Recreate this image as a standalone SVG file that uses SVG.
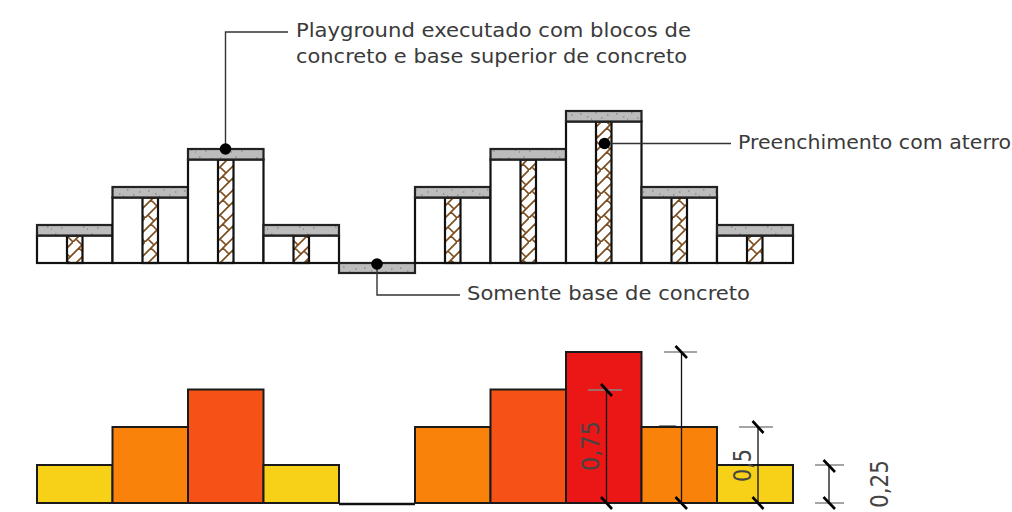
<svg xmlns="http://www.w3.org/2000/svg" width="1012" height="512" viewBox="0 0 1012 512">
<style>
.out{fill:#fff;stroke:#111;stroke-width:2.2}
.cap{fill:url(#conc);stroke:#222;stroke-width:2.2}
.fill{fill:url(#herr);stroke:#111;stroke-width:2.2}
.bar{stroke:#1a1a1a;stroke-width:2}
.lead{fill:none;stroke:#333;stroke-width:1.4}
.dot{fill:#000}
.t{font-family:"DejaVu Sans","Liberation Sans",sans-serif;font-size:20px;fill:#3a3a3a}
.d{font-family:"DejaVu Sans","Liberation Sans",sans-serif;font-size:24px;fill:#444}
.one{font-family:"Open Sans","Liberation Sans",sans-serif;font-size:24px;fill:#333}
.dl{stroke:#111;stroke-width:1.3;fill:none}
.tick{stroke:#888;stroke-width:1.5;fill:none}
.sl{stroke:#000;stroke-width:2.6;fill:none}
</style>
<defs>
<pattern id="herr" width="24" height="24" patternUnits="userSpaceOnUse" patternTransform="translate(1 2)">
<path d="M-2 14L14 -2M-2 26L26 -2M10 26L26 10M22 26L26 22M6 6L12 12M18 18L24 24M15 9L21 15M-9 9L-3 15M3 21L9 27M3 -3L9 3" fill="none" stroke="#7d4d1e" stroke-width="1.7"/>
</pattern>
<pattern id="conc" width="36" height="11" patternUnits="userSpaceOnUse">
<rect width="36" height="11" fill="#bcbcbc"/>
<path d="M4 4h1.500M11 7h1.500M19 3h1.500M25 8h1.500M31 5h1.500M15 9h1" stroke="#8e8e8e" stroke-width="1.4"/>
</pattern>
</defs>

<g id="section-top">
<g id="block-1"><rect class="out" x="37" y="235.500" width="75.500" height="27.500"/><rect class="fill" x="67" y="235.500" width="15.500" height="27.500"/><rect class="cap" x="37" y="225" width="75.500" height="10.500"/></g>
<g id="block-2"><rect class="out" x="112.500" y="197.500" width="75.500" height="65.500"/><rect class="fill" x="142.500" y="197.500" width="15.500" height="65.500"/><rect class="cap" x="112.500" y="187" width="75.500" height="10.500"/></g>
<g id="block-3"><rect class="out" x="188" y="159.500" width="75.500" height="103.500"/><rect class="fill" x="218" y="159.500" width="15.500" height="103.500"/><rect class="cap" x="188" y="149" width="75.500" height="10.500"/></g>
<g id="block-4"><rect class="out" x="263.500" y="235.500" width="75.500" height="27.500"/><rect class="fill" x="293.500" y="235.500" width="15.500" height="27.500"/><rect class="cap" x="263.500" y="225" width="75.500" height="10.500"/></g>
<g id="block-5"><rect class="cap" x="339" y="263" width="76" height="10"/></g>
<g id="block-6"><rect class="out" x="415" y="197.500" width="75.500" height="65.500"/><rect class="fill" x="445" y="197.500" width="15.500" height="65.500"/><rect class="cap" x="415" y="187" width="75.500" height="10.500"/></g>
<g id="block-7"><rect class="out" x="490.500" y="159.500" width="75.500" height="103.500"/><rect class="fill" x="520.500" y="159.500" width="15.500" height="103.500"/><rect class="cap" x="490.500" y="149" width="75.500" height="10.500"/></g>
<g id="block-8"><rect class="out" x="566" y="121.500" width="75.500" height="141.500"/><rect class="fill" x="596" y="121.500" width="15.500" height="141.500"/><rect class="cap" x="566" y="111" width="75.500" height="10.500"/></g>
<g id="block-9"><rect class="out" x="641.500" y="197.500" width="75.500" height="65.500"/><rect class="fill" x="671.500" y="197.500" width="15.500" height="65.500"/><rect class="cap" x="641.500" y="187" width="75.500" height="10.500"/></g>
<g id="block-10"><rect class="out" x="717" y="235.500" width="76" height="27.500"/><rect class="fill" x="747" y="235.500" width="15.500" height="27.500"/><rect class="cap" x="717" y="225" width="76" height="10.500"/></g>
</g>

<text class="one" transform="translate(676 434) rotate(-90)">1</text>

<g id="bars">
<g id="bar-1"><rect class="bar" x="37" y="465" width="75.500" height="38" fill="#f6d117"/></g>
<g id="bar-2"><rect class="bar" x="112.500" y="427" width="75.500" height="76" fill="#f9820b"/></g>
<g id="bar-3"><rect class="bar" x="188" y="389.500" width="75.500" height="113.500" fill="#f65217"/></g>
<g id="bar-4"><rect class="bar" x="263.500" y="465" width="75.500" height="38" fill="#f6d117"/></g>
<g id="bar-5"><path d="M339 504H415" stroke="#111" stroke-width="2.500"/></g>
<g id="bar-6"><rect class="bar" x="415" y="427" width="75.500" height="76" fill="#f9820b"/></g>
<g id="bar-7"><rect class="bar" x="490.500" y="389.500" width="75.500" height="113.500" fill="#f65217"/></g>
<g id="bar-8"><rect class="bar" x="566" y="352" width="75.500" height="151" fill="#eb1717"/></g>
<g id="bar-9"><rect class="bar" x="641.500" y="427" width="75.500" height="76" fill="#f9820b"/></g>
<g id="bar-10"><rect class="bar" x="717" y="465" width="76" height="38" fill="#f6d117"/></g>
</g>

<g id="connectors">
<path class="lead" d="M225.500 149V32H288"/>
<path class="lead" d="M604.500 143.500H731"/>
<path class="lead" d="M377 264V295H460"/>
<circle class="dot" cx="225.500" cy="149" r="5.800"/>
<circle class="dot" cx="604.500" cy="143.500" r="5.800"/>
<circle class="dot" cx="377" cy="264" r="5.800"/>
<path class="tick" d="M588 390H622M664 352H697M739 427H773M815 465H844M815 503H844"/>
<path class="dl" d="M606.500 390V503M681.500 352V503M758 427V503M829 465V503"/>
<path class="sl" d="M601 384L612 396M601 497L612 509M675.500 346L687 358M675.500 497L687 509M752.500 421L763.500 433M752.500 497L763.500 509M823.500 460L835 472M823.500 497L835 509"/>
</g>

<g id="labels">
<text class="t" x="296" y="37" textLength="395" lengthAdjust="spacingAndGlyphs">Playground executado com blocos de</text>
<text class="t" x="296" y="63" textLength="391" lengthAdjust="spacingAndGlyphs">concreto e base superior de concreto</text>
<text class="t" x="738" y="149" textLength="273" lengthAdjust="spacingAndGlyphs">Preenchimento com aterro</text>
<text class="t" x="467" y="300" textLength="283" lengthAdjust="spacingAndGlyphs">Somente base de concreto</text>
<text class="d" transform="translate(599 471) rotate(-90)" textLength="50" lengthAdjust="spacingAndGlyphs">0,75</text>
<text class="d" transform="translate(751 482) rotate(-90)" textLength="33" lengthAdjust="spacingAndGlyphs">0,5</text>
<text class="d" transform="translate(888 508) rotate(-90)" textLength="48" lengthAdjust="spacingAndGlyphs">0,25</text>
</g>
</svg>
